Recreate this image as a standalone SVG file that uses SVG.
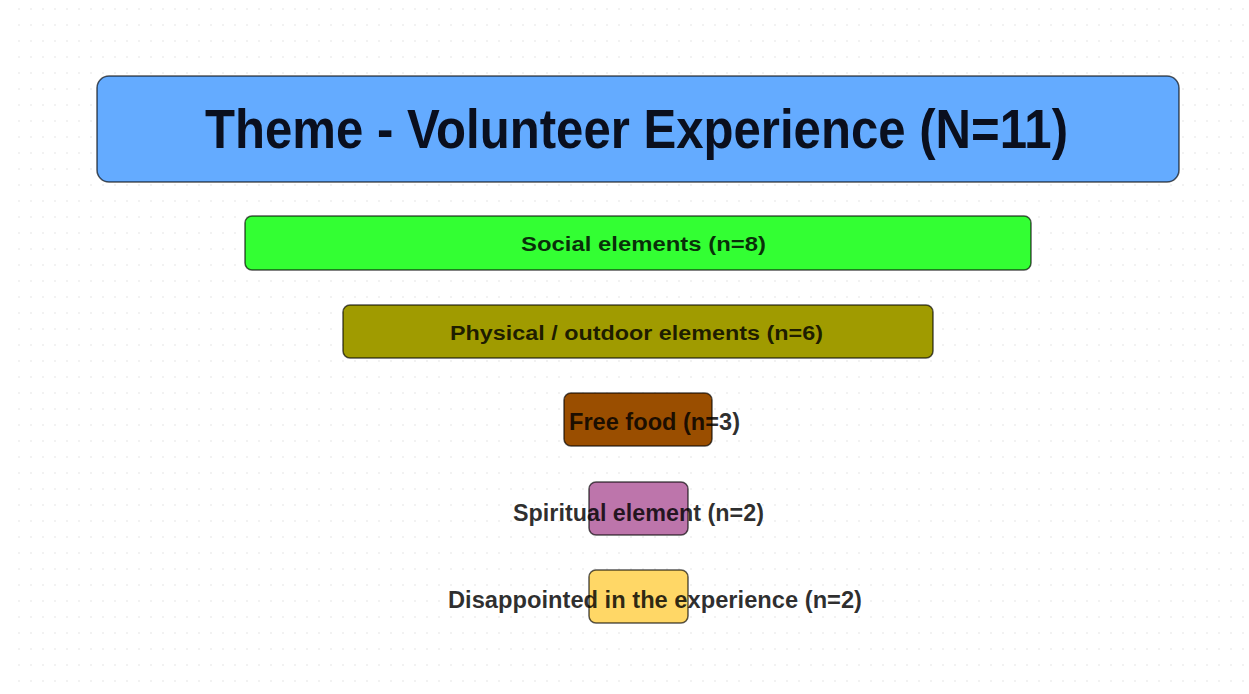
<svg xmlns="http://www.w3.org/2000/svg" width="1249" height="694" viewBox="0 0 1249 694">
  <defs>
    <pattern id="dots" x="6" y="8" width="12" height="16" patternUnits="userSpaceOnUse">
      <circle cx="1" cy="1" r="0.9" fill="#ececec"/>
    </pattern>
  </defs>
  <style>
    .box { stroke: #000; stroke-opacity: 0.65; stroke-width: 1.5; }
    .title { font-family: "Liberation Sans", Arial, sans-serif; font-weight: bold; font-size: 55px; fill: #0a0f1e; }
    .lbl { font-family: "Liberation Sans", Arial, sans-serif; font-weight: bold; fill: #000; fill-opacity: 0.82; }
    .lbl-m { font-size: 20px; }
    .lbl-s { font-size: 23px; }
  </style>

  <!-- background with faint dot grid -->
  <rect width="1249" height="694" fill="#ffffff"/>
  <rect x="8" y="8" width="1236" height="684" fill="url(#dots)"/>

  <g id="connectors"/>

  <g id="theme">
    <rect class="box" x="97" y="76" width="1082" height="106" rx="12" fill="#64abff"/>
    <text class="title" x="205" y="148" textLength="863" lengthAdjust="spacingAndGlyphs">Theme - Volunteer Experience (N=11)</text>
  </g>

  <g id="social">
    <rect class="box" x="245" y="216" width="786" height="54" rx="7" fill="#33ff33"/>
    <text class="lbl lbl-m" x="521" y="251" textLength="245" lengthAdjust="spacingAndGlyphs">Social elements (n=8)</text>
  </g>

  <g id="physical">
    <rect class="box" x="343" y="305" width="590" height="53" rx="7" fill="#a09b00"/>
    <text class="lbl lbl-m" x="450" y="340" textLength="373" lengthAdjust="spacingAndGlyphs">Physical / outdoor elements (n=6)</text>
  </g>

  <g id="free-food">
    <rect class="box" x="564" y="393" width="148" height="53" rx="7" fill="#9a4e00"/>
    <text class="lbl lbl-s" x="569" y="430" textLength="171" lengthAdjust="spacingAndGlyphs">Free food (n=3)</text>
  </g>

  <g id="spiritual">
    <rect class="box" x="589" y="482" width="99" height="53" rx="7" fill="#bd75ab"/>
    <text class="lbl lbl-s" x="513" y="521" textLength="251" lengthAdjust="spacingAndGlyphs">Spiritual element (n=2)</text>
  </g>

  <g id="disappointed">
    <rect class="box" x="589" y="570" width="99" height="53" rx="7" fill="#ffd766"/>
    <text class="lbl lbl-s" x="448" y="608" textLength="414" lengthAdjust="spacingAndGlyphs">Disappointed in the experience (n=2)</text>
  </g>
</svg>
